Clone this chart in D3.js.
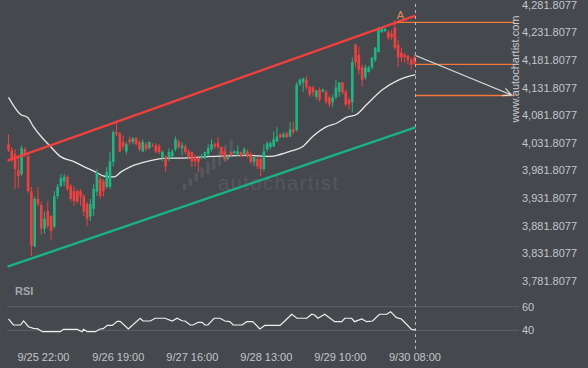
<meta charset="utf-8">
<script src="https://d3js.org/d3.v7.min.js"></script>
<style>
    body { margin: 0; background: #45484d; }
    svg { display: block; font-family: "Liberation Sans", Arial, sans-serif; }
    .axis text { fill: #c3c6ca; font-size: 11px; }
</style>

<svg width="588" height="368"></svg>

<script>
    // hourly candles, [open, high, low, close]
    var ohlc = [
        [4029,4047,4015,4018],[4018,4024,3997,4002],[4011,4020,3948,3984],[3982,4007,3950,3971],[3975,4027,3971,4022],
        [4020,4024,4006,4009],[4007,4011,3941,3944],[3944,3952,3827,3845],[3844,3934,3842,3930],[3930,3952,3916,3921],
        [3919,3925,3865,3876],[3876,3907,3867,3894],[3908,3925,3876,3881],[3899,3901,3856,3872],[3880,3944,3876,3935],
        [3935,3957,3930,3952],[3953,3975,3952,3968],[3961,3975,3953,3970],[3970,3973,3944,3948],[3953,3957,3925,3930],
        [3944,3953,3917,3926],[3944,3948,3921,3925],[3944,3948,3917,3934],[3935,3939,3899,3907],[3921,3925,3881,3894],
        [3898,3930,3890,3921],[3912,3957,3899,3948],[3943,3984,3935,3979],[3966,3971,3930,3935],[3962,3966,3934,3944],
        [3952,3988,3948,3979],[3952,4015,3948,3998],[3997,4054,3989,4051],[4051,4070,4043,4047],[4049,4051,4015,4016],
        [4033,4045,4020,4025],[4016,4033,4011,4029],[4038,4043,4027,4033],[4033,4042,4029,4040],[4040,4042,4027,4029],
        [4033,4036,4016,4020],[4016,4038,4015,4033],[4029,4033,4016,4020],[4022,4034,4020,4033],[4027,4031,4024,4025],
        [4027,4031,4013,4016],[4025,4029,4011,4015],[4004,4018,3998,4015],[4006,4009,3979,3989],[4004,4022,3998,4015],
        [4007,4020,4006,4016],[4020,4043,4016,4038],[4034,4038,4020,4024],[4022,4033,4009,4027],[4025,4029,4011,4015],
        [4016,4020,4002,4007],[4015,4016,3988,3998],[4007,4011,3989,3998],[4004,4006,3979,3997],[4004,4011,4002,4007],
        [4006,4016,4002,4015],[4011,4029,4007,4022],[4020,4038,4016,4029],[4029,4033,4020,4025],[4031,4042,4020,4024],
        [4024,4025,4007,4011],[4016,4022,3998,4002],[4002,4011,4000,4007],[4015,4016,4006,4009],[4013,4018,4011,4016],
        [4011,4027,4007,4016],[4015,4016,4006,4007],[4011,4024,4007,4020],[4016,4020,4004,4007],[4011,4015,3993,3997],
        [3997,4007,3989,4006],[4002,4006,3984,3989],[4002,4006,3971,3984],[3984,4029,3980,4016],[4020,4034,4016,4031],
        [4024,4034,4020,4031],[4025,4052,4024,4038],[4034,4060,4033,4043],[4047,4049,4040,4042],[4042,4051,4040,4047],
        [4049,4051,4040,4042],[4043,4069,4042,4056],[4056,4069,4047,4051],[4054,4141,4052,4137],[4137,4148,4135,4146],
        [4141,4150,4124,4148],[4146,4153,4128,4132],[4133,4135,4115,4119],[4132,4135,4115,4123],[4115,4128,4110,4126],
        [4128,4132,4106,4110],[4124,4130,4123,4128],[4124,4128,4101,4106],[4114,4117,4096,4101],[4105,4119,4096,4114],
        [4114,4146,4110,4132],[4124,4142,4115,4141],[4141,4142,4119,4123],[4124,4128,4097,4101],[4110,4114,4092,4101],
        [4105,4186,4087,4178],[4209,4211,4168,4177],[4191,4205,4155,4164],[4168,4173,4133,4146],[4150,4173,4146,4168],
        [4160,4171,4159,4168],[4168,4187,4164,4186],[4182,4205,4178,4204],[4196,4241,4195,4240],[4232,4241,4231,4240],
        [4234,4240,4232,4238],[4232,4236,4218,4222],[4229,4236,4218,4223],[4240,4254,4200,4204],[4209,4218,4169,4186],
        [4195,4204,4178,4186],[4191,4195,4177,4187],[4189,4191,4173,4182],[4182,4186,4164,4173],[4187,4191,4173,4175]
    ];

    // moving average (read at points along the curve)
    var maIdx = [0, 3.7, 5.8, 7.6, 10.7, 12.8, 15.8, 19.8, 23.2, 26.2, 29.3, 32.3, 34.4, 37.5, 42.4, 48.4,
                 52.4, 62.5, 72.8, 79.8, 82, 85.9, 89.9, 92.9, 97.2, 100.2, 103.3, 106.3, 109.4, 114.3, 119.4, 124.3];
    var maVal = [4114, 4083, 4078, 4061, 4038, 4025, 4007, 3998, 3988, 3980, 3971, 3970, 3979, 3989, 3998, 4004,
                 4004, 4007, 4009, 4007, 4009, 4016, 4025, 4043, 4061, 4067, 4078, 4083, 4101, 4128, 4146, 4155];

    // RSI
    var rsiIdx = [0, 1.5, 3.7, 4.6, 6.1, 7.6, 8.8, 10.4, 15.8, 16.8, 21, 22.5, 22.9, 24.1, 26.5, 28, 28.9, 30.2,
                  31.7, 33.2, 34.1, 36.6, 40.2, 41.1, 43.3, 44.8, 47.8, 50, 51.5, 53, 53.9, 55.5, 56.4, 57.9, 59.1,
                  60, 60.9, 62.8, 64.6, 66.1, 67.6, 68.6, 71.3, 72.8, 74.6, 76.8, 78.3, 82.9, 84.4, 86.5, 88.1, 91.1,
                  92.6, 93.5, 94.5, 96.6, 99.6, 101.8, 102.7, 104.8, 105.7, 107.9, 109.4, 111.2, 113.3, 115.5, 116.7,
                  118.5, 120, 123.1, 124.3];
    var rsiVal = [49.6, 44.5, 44.5, 47.9, 43, 41.7, 41.4, 38.8, 38.8, 40.8, 40.8, 38.8, 40.8, 38.8, 38.8, 41.1, 41.4, 44.2,
                  44.2, 47.6, 47.6, 41.1, 50.2, 47.9, 47.9, 50.2, 50.2, 47.9, 50.2, 48.1, 47.9, 44.5, 44.5, 46.8, 46.8,
                  44.5, 44.5, 50.2, 50.2, 47.9, 47.3, 44.5, 44.5, 47.3, 47.3, 41.1, 44.2, 44.2, 47.9, 53.6, 50.2, 50.2,
                  53.6, 53, 50.2, 53.6, 47.3, 47.3, 50.2, 50.2, 47.3, 49.6, 47.3, 47.9, 53.6, 53.6, 55.8, 50.7, 49.6,
                  40.8, 40.3];

    var priceTicks = [3781.8077, 3831.8077, 3881.8077, 3931.8077, 3981.8077, 4031.8077,
                      4081.8077, 4131.8077, 4181.8077, 4231.8077, 4281.8077];
    var rsiTicks = [40, 60];
    var timeIdx = [10.5, 33.4, 56, 78.6, 101.2, 124];
    var timeLabels = ["9/25 22:00", "9/26 19:00", "9/27 16:00", "9/28 13:00", "9/29 10:00", "9/30 08:00"];

    // channel, levels, forecast
    var resistance = [[-0.3, 3999.2], [124.3, 4262.2]];
    var support = [[-0.3, 3807.2], [124.3, 4059.7]];
    var levelPrice = [4249.9, 4173.8, 4117.3];
    var levelStart = [118.8, 124.3, 124.3];
    var projEnd = 154.5;
    var forecast = [[124.3, 4189.8], [153.6, 4118.2]];
    var nowIdx = 124.3;
    var pointA = [119.7, 4256];

    var svg = d3.select("svg"),
        width = +svg.attr("width"),
        height = +svg.attr("height");

    var x = d3.scaleLinear().domain([0, 124]).range([8.5, 414.5]);
    var y = d3.scaleLinear().domain([3781.8077, 4281.8077]).range([280.7, 4.7]);
    var yr = d3.scaleLinear().domain([40, 60]).range([330.3, 306.7]);

    svg.append("rect").attr("width", width).attr("height", height).attr("fill", "#45484d");

    // watermark
    var wm = svg.append("g").attr("fill", "#54575c");
    d3.range(9).forEach(function(k) {
        var h = 6 + k * 1.6;
        wm.append("rect")
            .attr("x", 183 + k * 5.8).attr("y", 190 - k * 4 - h)
            .attr("width", 3.4).attr("height", h).attr("rx", 1.2);
    });
    wm.append("text")
        .attr("x", 218).attr("y", 190)
        .attr("font-size", "20px")
        .attr("textLength", 120).attr("lengthAdjust", "spacing")
        .text("autochartist");

    // RSI gridlines
    svg.append("g").selectAll("line")
        .data(rsiTicks).enter().append("line")
        .attr("x1", 7).attr("x2", 519)
        .attr("y1", function(d) { return yr(d); })
        .attr("y2", function(d) { return yr(d); })
        .attr("stroke", "#5f6267");

    // channel lines
    var line = d3.line()
        .x(function(d) { return x(d[0]); })
        .y(function(d) { return y(d[1]); });

    svg.append("path").datum(support).attr("d", line)
        .attr("stroke", "#19b383").attr("stroke-width", 2.4).attr("fill", "none");

    // moving average
    svg.append("path")
        .datum(d3.zip(maIdx, maVal))
        .attr("d", line.curve(d3.curveMonotoneX))
        .attr("stroke", "#e6e6e6").attr("stroke-width", 1.3).attr("fill", "none");
    line.curve(d3.curveLinear);

    // candles
    var c = svg.append("g").selectAll("g")
        .data(ohlc).enter().append("g")
        .attr("fill", function(d) { return d[3] >= d[0] ? "#1fb682" : "#f23f3f"; })
        .attr("stroke", function(d) { return d[3] >= d[0] ? "#1fb682" : "#f23f3f"; });
    c.append("line")
        .attr("x1", function(d, i) { return x(i); })
        .attr("x2", function(d, i) { return x(i); })
        .attr("y1", function(d) { return y(d[1]); })
        .attr("y2", function(d) { return y(d[2]); })
        .attr("stroke-width", 1);
    c.append("rect")
        .attr("x", function(d, i) { return x(i) - 1.3; })
        .attr("width", 2.6)
        .attr("y", function(d) { return y(Math.max(d[0], d[3])); })
        .attr("height", function(d) { return Math.max(1, Math.abs(y(d[0]) - y(d[3]))); })
        .attr("stroke", "none");

    svg.append("path").datum(resistance).attr("d", line)
        .attr("stroke", "#f0403e").attr("stroke-width", 2.4).attr("fill", "none");

    // key levels
    svg.append("g").selectAll("line")
        .data(levelPrice).enter().append("line")
        .attr("x1", function(d, i) { return x(levelStart[i]); })
        .attr("x2", x(projEnd))
        .attr("y1", function(d) { return y(d); })
        .attr("y2", function(d) { return y(d); })
        .attr("stroke", "#f47a3a").attr("stroke-width", 1.3);

    svg.append("text")
        .attr("x", x(pointA[0])).attr("y", y(pointA[1]))
        .attr("text-anchor", "middle")
        .attr("font-size", "11px")
        .attr("fill", "#e58a55")
        .text("A");

    // now line
    svg.append("line")
        .attr("x1", x(nowIdx)).attr("x2", x(nowIdx))
        .attr("y1", 4).attr("y2", 350)
        .attr("stroke", "#b8babd").attr("stroke-dasharray", "3,3");

    // forecast arrow
    var p0 = [x(forecast[0][0]), y(forecast[0][1])],
        p1 = [x(forecast[1][0]), y(forecast[1][1])];
    var ang = Math.atan2(p1[1] - p0[1], p1[0] - p0[0]);
    svg.append("path")
        .attr("d", "M" + p0 + "L" + p1 +
            "M" + [p1[0] - 9 * Math.cos(ang - 0.45), p1[1] - 9 * Math.sin(ang - 0.45)] + "L" + p1 +
            "L" + [p1[0] - 9 * Math.cos(ang + 0.45), p1[1] - 9 * Math.sin(ang + 0.45)])
        .attr("stroke", "#dcdcdc").attr("stroke-width", 1.2).attr("fill", "none");

    svg.append("text")
        .attr("transform", "translate(519,69) rotate(-90)")
        .attr("text-anchor", "middle")
        .attr("font-size", "11px")
        .attr("fill", "#c9cbce")
        .text("www.autochartist.com");

    // RSI
    svg.append("path")
        .datum(d3.zip(rsiIdx, rsiVal))
        .attr("d", d3.line().x(function(d) { return x(d[0]); }).y(function(d) { return yr(d[1]); }))
        .attr("stroke", "#f0f0f0").attr("stroke-width", 1.2).attr("fill", "none");

    svg.append("text")
        .attr("x", 15).attr("y", 295)
        .attr("font-size", "11px").attr("font-weight", "bold")
        .attr("fill", "#a4a7ab")
        .text("RSI");

    // axes
    svg.append("g").attr("class", "axis")
        .attr("transform", "translate(522,0)")
        .call(d3.axisRight(y).tickValues(priceTicks).tickSize(0).tickPadding(0).tickFormat(d3.format(",.4f")))
        .call(function(g) { g.select(".domain").remove(); });

    svg.append("g").attr("class", "axis")
        .attr("transform", "translate(522,0)")
        .call(d3.axisRight(yr).tickValues(rsiTicks).tickSize(0).tickPadding(0))
        .call(function(g) { g.select(".domain").remove(); });

    svg.append("g").attr("class", "axis")
        .attr("transform", "translate(0,353)")
        .call(d3.axisBottom(x).tickValues(timeIdx).tickSize(0).tickPadding(0)
            .tickFormat(function(d, i) { return timeLabels[i]; }))
        .call(function(g) { g.select(".domain").remove(); });
</script>
